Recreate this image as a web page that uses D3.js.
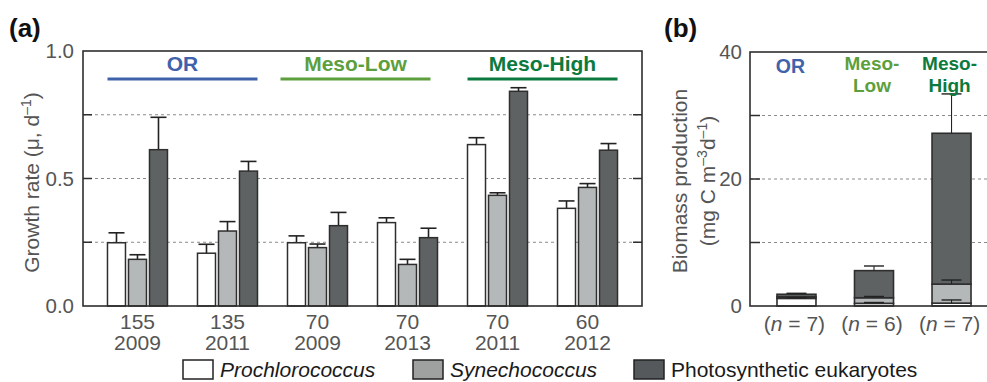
<!DOCTYPE html>
<html><head><meta charset="utf-8">
<script src="https://cdn.jsdelivr.net/npm/d3@7"></script>
<style>
body{margin:0;background:#fff;}
svg text{font-family:"Liberation Sans",Arial,sans-serif;}
</style></head>
<body><svg id="c" width="987" height="382"></svg>
<script>
// ---- Panel (a) data ----
const sitesDepth = ["155","135","70","70","70","60"];
const sitesYear  = ["2009","2011","2009","2013","2011","2012"];
const proRate = [0.248,0.207,0.248,0.327,0.633,0.383];
const proErr  = [0.039,0.035,0.027,0.019,0.027,0.029];
const synRate = [0.183,0.294,0.229,0.163,0.434,0.465];
const synErr  = [0.018,0.037,0.014,0.020,0.010,0.015];
const eukRate = [0.613,0.529,0.315,0.268,0.842,0.611];
const eukErr  = [0.127,0.038,0.052,0.037,0.014,0.026];
const regimeNames = ["OR","Meso-Low","Meso-High"];
const regimeFirst = [0,2,4];
const regimeLast  = [1,3,5];
const yTicksA = [0,0.5,1.0];
const yMinorA = [0.25,0.5,0.75];
// ---- Panel (b) data ----
const bN = ["7","6","7"];
const bLabel1 = ["OR","Meso-","Meso-"];
const bLabel2 = ["","Low","High"];
const proProd = [1.20,0.42,0.45];
const proProdErr = [0.10,0.13,0.50];
const synProd = [0.25,0.88,3.00];
const synProdErr = [0.00,0.20,0.64];
const eukProd = [0.40,4.27,23.75];
const eukProdErr = [0.15,0.73,6.20];
const yTicksB = [0,20,40];
const yMinorB = [10,20,30];
const legendNames = ["Prochlorococcus","Synechococcus","Photosynthetic eukaryotes"];

const regimeColors = ["#4062ab","#5d9f3c","#0c7a3e"];
const fills = ["#ffffff","#b5b8b8","#5f6263"];
const legendFills = ["#ffffff","#9fa1a1","#56595b"];
const stroke = "#2e2e2e";
const tickColor = "#555";

const svg = d3.select("#c");

// ================= Panel (a) =================
const A = {l:83,r:642,t:51,b:306};
const x0 = d3.scaleBand().domain(d3.range(6)).range([A.l,A.r]).paddingInner(1/3).paddingOuter(0.272);
const x1 = d3.scaleBand().domain([0,1,2]).range([0,x0.bandwidth()]).paddingInner(1/7);
const yA = d3.scaleLinear().domain([0,1]).range([A.b,A.t]);

const gA = svg.append("g");
gA.selectAll("line.grid").data([0.25,0.5,0.75]).join("line")
  .attr("x1",A.l).attr("x2",A.r).attr("y1",d=>yA(d)).attr("y2",d=>yA(d))
  .attr("stroke","#8a8a8a").attr("stroke-width",1).attr("stroke-dasharray","3,3");
yMinorA.forEach(v=>{
  gA.append("line").attr("x1",A.l).attr("x2",A.l+9).attr("y1",yA(v)).attr("y2",yA(v)).attr("stroke",stroke).attr("stroke-width",1.5);
  gA.append("line").attr("x1",A.r).attr("x2",A.r-9).attr("y1",yA(v)).attr("y2",yA(v)).attr("stroke",stroke).attr("stroke-width",1.5);
});
const axA = d3.axisLeft(yA).tickValues(yTicksA).tickFormat(d3.format(".1f")).tickSize(0).tickPadding(9);
const axAg = gA.append("g").attr("transform",`translate(${A.l},0)`).call(axA);
axAg.select(".domain").remove();
axAg.selectAll("text").attr("font-size",20.5).attr("fill",tickColor).attr("font-family","Liberation Sans, Arial, sans-serif");

const series = [{v:proRate,e:proErr},{v:synRate,e:synErr},{v:eukRate,e:eukErr}];
series.forEach((s,si)=>{
  const g = gA.append("g");
  s.v.forEach((v,i)=>{
    const bx = x0(i)+x1(si), bw = x1.bandwidth();
    const top = yA(v), et = yA(v+s.e[i]);
    g.append("line").attr("x1",bx+bw/2).attr("x2",bx+bw/2).attr("y1",top).attr("y2",et).attr("stroke","#222").attr("stroke-width",1.6);
    g.append("line").attr("x1",bx+1).attr("x2",bx+bw-1).attr("y1",et).attr("y2",et).attr("stroke","#222").attr("stroke-width",1.6);
    g.append("rect").attr("x",bx).attr("y",top).attr("width",bw).attr("height",yA(0)-top)
      .attr("fill",fills[si]).attr("stroke",stroke).attr("stroke-width",1.5);
  });
});
gA.append("rect").attr("x",A.l).attr("y",A.t).attr("width",A.r-A.l).attr("height",A.b-A.t)
  .attr("fill","none").attr("stroke",stroke).attr("stroke-width",1.6);
d3.range(6).forEach(i=>{
  const cx = x0(i)+x0.bandwidth()/2;
  const t = gA.append("text").attr("x",cx).attr("text-anchor","middle").attr("font-size",21).attr("fill",tickColor);
  t.append("tspan").attr("x",cx).attr("y",329).text(sitesDepth[i]);
  t.append("tspan").attr("x",cx).attr("y",350).text(sitesYear[i]);
});
const regimeShift = [0,-7,0];
regimeNames.forEach((n,k)=>{
  const xs = x0(regimeFirst[k])+regimeShift[k], xe = x0(regimeLast[k])+x0.bandwidth()+regimeShift[k];
  gA.append("line").attr("x1",xs).attr("x2",xe).attr("y1",79).attr("y2",79).attr("stroke",regimeColors[k]).attr("stroke-width",3.2);
  gA.append("text").attr("x",(xs+xe)/2).attr("y",71).attr("text-anchor","middle").attr("font-size",21)
    .attr("font-weight","bold").attr("fill",regimeColors[k]).text(n);
});
const ytA = gA.append("text").attr("transform",`translate(39,${(A.t+A.b)/2+4}) rotate(-90)`)
  .attr("text-anchor","middle").attr("font-size",21).attr("fill",tickColor);
ytA.append("tspan").text("Growth rate (\u03bc, d");
ytA.append("tspan").attr("font-size",14).attr("dy",-8).text("\u20131");
ytA.append("tspan").attr("dy",8).text(")");
svg.append("text").attr("x",9).attr("y",37).attr("font-size",26).attr("font-weight","bold").attr("fill","#111").text("(a)");

// ================= Panel (b) =================
const B = {l:750,r:998,t:52,b:306};
const xb = d3.scaleBand().domain(d3.range(3)).range([B.l,B.r]).paddingInner(0.497).paddingOuter(0.348);
const yB = d3.scaleLinear().domain([0,40]).range([B.b,B.t]);
const gB = svg.append("g");
gB.selectAll("line.grid").data([10,20,30]).join("line")
  .attr("x1",B.l).attr("x2",B.r).attr("y1",d=>yB(d)).attr("y2",d=>yB(d))
  .attr("stroke","#8a8a8a").attr("stroke-width",1).attr("stroke-dasharray","3,3");
yMinorB.forEach(v=>{
  gB.append("line").attr("x1",B.l).attr("x2",B.l+10).attr("y1",yB(v)).attr("y2",yB(v)).attr("stroke",stroke).attr("stroke-width",1.5);
});
const axB = d3.axisLeft(yB).tickValues(yTicksB).tickSize(0).tickPadding(8);
const axBg = gB.append("g").attr("transform",`translate(${B.l},0)`).call(axB);
axBg.select(".domain").remove();
axBg.selectAll("text").attr("font-size",20.5).attr("fill",tickColor).attr("font-family","Liberation Sans, Arial, sans-serif");

const stackSeries = [{v:proProd,e:proProdErr},{v:synProd,e:synProdErr},{v:eukProd,e:eukProdErr}];
d3.range(3).forEach(i=>{
  let base = 0;
  const bx = xb(i), bw = xb.bandwidth();
  stackSeries.forEach((s,si)=>{
    const lo = base, hi = base + s.v[i];
    gB.append("rect").attr("x",bx).attr("y",yB(hi)).attr("width",bw).attr("height",yB(lo)-yB(hi))
      .attr("fill",fills[si]).attr("stroke",stroke).attr("stroke-width",1.6);
    base = hi;
  });
  base = 0;
  stackSeries.forEach((s,si)=>{
    const hi = base + s.v[i];
    if (s.e[i] > 0) {
      const et = yB(hi + s.e[i]);
      gB.append("line").attr("x1",bx+bw/2).attr("x2",bx+bw/2).attr("y1",yB(hi)).attr("y2",et).attr("stroke","#222").attr("stroke-width",1.1);
      gB.append("line").attr("x1",bx+bw/2-10).attr("x2",bx+bw/2+10).attr("y1",et).attr("y2",et).attr("stroke","#222").attr("stroke-width",1.4);
    }
    base = hi;
  });
  const cx = bx+bw/2;
  const t = gB.append("text").attr("x",cx-2).attr("y",331).attr("text-anchor","middle").attr("font-size",21).attr("fill",tickColor);
  t.append("tspan").text("(");
  t.append("tspan").attr("font-style","italic").text("n");
  t.append("tspan").text(" = " + bN[i] + ")");
  if (bLabel2[i]) {
    gB.append("text").attr("x",cx-2).attr("y",70).attr("text-anchor","middle").attr("font-size",19)
      .attr("font-weight","bold").attr("fill",regimeColors[i]).text(bLabel1[i]);
    gB.append("text").attr("x",cx-2).attr("y",92).attr("text-anchor","middle").attr("font-size",19)
      .attr("font-weight","bold").attr("fill",regimeColors[i]).text(bLabel2[i]);
  } else {
    gB.append("text").attr("x",cx-6).attr("y",73).attr("text-anchor","middle").attr("font-size",19.5)
      .attr("font-weight","bold").attr("fill",regimeColors[i]).text(bLabel1[i]);
  }
});
gB.append("rect").attr("x",B.l).attr("y",B.t).attr("width",B.r-B.l).attr("height",B.b-B.t)
  .attr("fill","none").attr("stroke",stroke).attr("stroke-width",1.6);
gB.append("text").attr("text-anchor","middle").attr("font-size",21).attr("fill",tickColor)
  .attr("transform",`translate(687,${(B.t+B.b)/2+2}) rotate(-90)`).text("Biomass production");
const sec = gB.append("text").attr("text-anchor","middle").attr("font-size",21).attr("fill",tickColor)
  .attr("transform",`translate(715,${(B.t+B.b)/2+2}) rotate(-90)`);
sec.append("tspan").text("(mg C m");
sec.append("tspan").attr("font-size",14).attr("dy",-8).text("\u20133");
sec.append("tspan").attr("dy",8).text("d");
sec.append("tspan").attr("font-size",14).attr("dy",-8).text("\u20131");
sec.append("tspan").attr("dy",8).text(")");
svg.append("text").attr("x",664).attr("y",37).attr("font-size",26).attr("font-weight","bold").attr("fill","#111").text("(b)");

// ================= Legend =================
const legX = [183,413,634];
legendNames.forEach((n,i)=>{
  svg.append("rect").attr("x",legX[i]).attr("y",360).attr("width",30).attr("height",19)
    .attr("fill",legendFills[i]).attr("stroke","#222").attr("stroke-width",1.5);
  svg.append("text").attr("x",legX[i]+37).attr("y",377).attr("font-size",21).attr("fill","#1a1a1a")
    .attr("font-style",i<2?"italic":"normal").text(n);
});
</script></body></html>
